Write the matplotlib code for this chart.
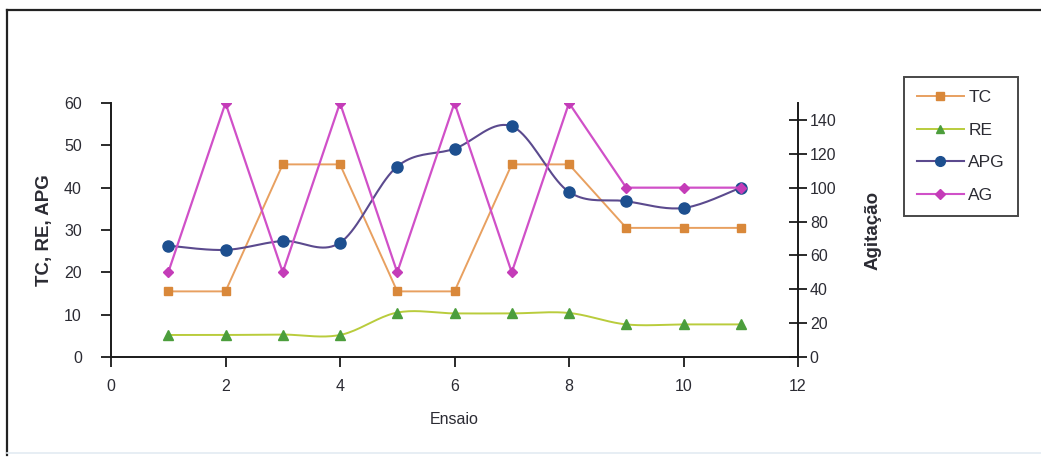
import numpy as np
import matplotlib
matplotlib.use("Agg")
import matplotlib.pyplot as plt
from matplotlib.lines import Line2D

plt.rcParams['font.family'] = ['Liberation Sans', 'DejaVu Sans']

ensaio = [1, 2, 3, 4, 5, 6, 7, 8, 9, 10, 11]
tc = [15.5, 15.5, 45.5, 45.5, 15.5, 15.5, 45.5, 45.5, 30.5, 30.5, 30.5]
re = [5.2, 5.2, 5.3, 5.2, 10.5, 10.3, 10.3, 10.4, 7.7, 7.7, 7.7]
apg = [26.3, 25.3, 27.4, 27.0, 45.0, 49.2, 54.5, 39.0, 36.8, 35.2, 40.0]
ag = [50, 150, 50, 150, 50, 150, 50, 150, 100, 100, 100]

x_ticks = [0, 2, 4, 6, 8, 10, 12]
left_ticks = [0, 10, 20, 30, 40, 50, 60]
right_ticks = [0, 20, 40, 60, 80, 100, 120, 140]

C_TC_LINE, C_TC_MK = '#e8a060', '#d9883a'
C_RE_LINE, C_RE_MK = '#b9cc3c', '#4c9e3c'
C_APG_LINE, C_APG_MK = '#5b4a8e', '#1d4f8f'
C_AG_LINE, C_AG_MK = '#d050c8', '#c43cb8'
TXT = '#2b2b33'


def smooth(xs, ys, n=20):
    """Bezier smoothing through the points (spreadsheet-style smoothed line)."""
    xs = np.asarray(xs, float)
    ys = np.asarray(ys, float)
    px, py = [], []
    m = len(xs)
    for i in range(m - 1):
        x0, y0 = xs[max(i - 1, 0)], ys[max(i - 1, 0)]
        x1, y1 = xs[i], ys[i]
        x2, y2 = xs[i + 1], ys[i + 1]
        x3, y3 = xs[min(i + 2, m - 1)], ys[min(i + 2, m - 1)]
        c1x, c1y = x1 + (x2 - x0) / 6, y1 + (y2 - y0) / 6
        c2x, c2y = x2 - (x3 - x1) / 6, y2 - (y3 - y1) / 6
        t = np.linspace(0, 1, n, endpoint=(i == m - 2))
        b0, b1, b2, b3 = (1 - t) ** 3, 3 * t * (1 - t) ** 2, 3 * t ** 2 * (1 - t), t ** 3
        px.append(b0 * x1 + b1 * c1x + b2 * c2x + b3 * x2)
        py.append(b0 * y1 + b1 * c1y + b2 * c2y + b3 * y2)
    return np.concatenate(px), np.concatenate(py)


W, H = 1041, 458
fig = plt.figure(figsize=(W / 100, H / 100), dpi=100)
fig.patch.set_facecolor('white')

# outer chart frame: dark left and top edges, faint bottom edge
fig.add_artist(Line2D([7 / W, 7 / W], [1 - 455 / H, 1 - 10 / H],
                      transform=fig.transFigure, color='#222', lw=1.6))
fig.add_artist(Line2D([7 / W, 1.0], [1 - 10 / H, 1 - 10 / H],
                      transform=fig.transFigure, color='#222', lw=1.6))
fig.add_artist(Line2D([7 / W, 1.0], [1 - 453 / H, 1 - 453 / H],
                      transform=fig.transFigure, color='#e3ebf2', lw=1.2))

ax = fig.add_axes([111 / W, 1 - 357 / H, (798 - 111) / W, (357 - 103) / H])
ax2 = ax.twinx()

ax.set_xlim(0, 12)
ax.set_ylim(0, 60)
ax2.set_ylim(0, 150)

# TC
ax.plot(ensaio, tc, color=C_TC_LINE, lw=1.4, zorder=3)
ax.plot(ensaio, tc, ls='none', marker='s', ms=6.3, mfc=C_TC_MK, mec=C_TC_MK, zorder=4)
# RE
sx, sy = smooth(ensaio, re)
ax.plot(sx, sy, color=C_RE_LINE, lw=1.4, zorder=3)
ax.plot(ensaio, re, ls='none', marker='^', ms=7.5, mfc=C_RE_MK, mec=C_RE_MK, zorder=4)
# APG
sx, sy = smooth(ensaio, apg)
ax.plot(sx, sy, color=C_APG_LINE, lw=1.5, zorder=3)
ax.plot(ensaio, apg, ls='none', marker='o', ms=8, mfc=C_APG_MK, mec=C_APG_MK, zorder=4)
# AG on the secondary axis
ax2.plot(ensaio, ag, color=C_AG_LINE, lw=1.6, zorder=3)
ax2.plot(ensaio, ag, ls='none', marker='D', ms=5.5, mfc=C_AG_MK, mec=C_AG_MK, zorder=4)

for a in (ax, ax2):
    a.spines['top'].set_visible(False)
    for s in a.spines.values():
        s.set_color('#1a1a1a')
        s.set_linewidth(1.4)
    a.patch.set_visible(False)

ax.spines['right'].set_visible(False)
ax2.spines['left'].set_visible(False)
ax2.spines['bottom'].set_visible(False)

ax.set_xticks(x_ticks)
ax.set_yticks(left_ticks)
ax2.set_yticks(right_ticks)

ax.tick_params(axis='both', direction='out', length=7, width=1.3, color='#1a1a1a',
               labelsize=11.5, labelcolor=TXT)
ax.tick_params(axis='x', pad=9)
ax.tick_params(axis='y', pad=14)
ax2.tick_params(axis='y', direction='inout', length=13, width=1.3, color='#1a1a1a',
                labelsize=11.5, labelcolor=TXT, pad=2)

ax.set_xlabel('Ensaio', fontsize=11.5, color=TXT, labelpad=13)
ax.set_ylabel('TC, RE, APG', fontsize=13.5, color=TXT, fontweight='bold', labelpad=8)
ax2.set_ylabel('Agitação', fontsize=13.5, color=TXT, fontweight='bold', labelpad=20)

handles = [
    Line2D([], [], color=C_TC_LINE, lw=1.4, marker='s', ms=6, mfc=C_TC_MK, mec=C_TC_MK),
    Line2D([], [], color=C_RE_LINE, lw=1.4, marker='^', ms=6, mfc=C_RE_MK, mec=C_RE_MK),
    Line2D([], [], color=C_APG_LINE, lw=1.5, marker='o', ms=7, mfc=C_APG_MK, mec=C_APG_MK),
    Line2D([], [], color=C_AG_LINE, lw=1.5, marker='D', ms=5, mfc=C_AG_MK, mec=C_AG_MK),
]
leg = fig.legend(handles, ['TC', 'RE', 'APG', 'AG'],
                 loc='upper left', bbox_to_anchor=(904 / W, 1 - 77 / H),
                 frameon=True, fancybox=False, edgecolor='#1a1a1a', fontsize=12.5,
                 handlelength=2.7, handletextpad=0.25, labelspacing=1.0,
                 borderpad=0.75, borderaxespad=0)
leg.get_frame().set_linewidth(1.4)
for t in leg.get_texts():
    t.set_color(TXT)

fig.savefig('out.png', dpi=100, facecolor='white')
